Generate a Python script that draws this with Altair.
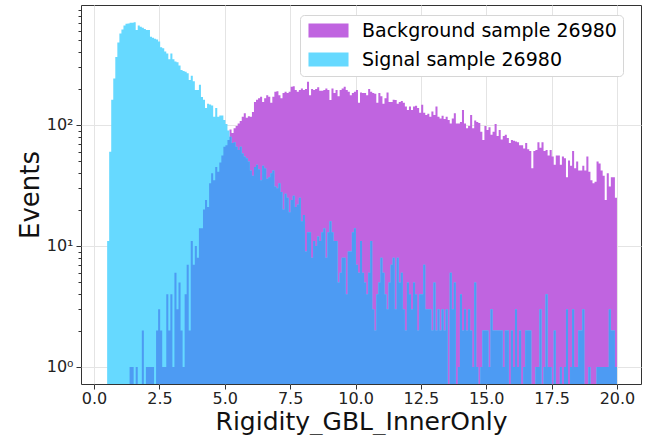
import altair as alt
import numpy as np
import pandas as pd

# 250 bins from 0.5 to 20.0
bin_start = 0.5
bin_width = 0.078
n_bins = 250

signal_counts = [
    11, 60, 162, 242, 364, 480, 570, 615, 665, 685,
    690, 700, 700, 705, 610, 665, 650, 635, 620, 610,
    610, 535, 525, 515, 510, 490, 440, 430, 405, 390,
    350, 390, 350, 335, 330, 310, 285, 280, 276, 268,
    235, 255, 230, 195, 195, 215, 170, 162, 138, 150,
    148, 145, 117, 138, 117, 120, 120, 110, 102, 90,
    80, 71,
    72, 66, 62, 66, 58, 55, 53, 50, 42, 38, 45, 47, 43, 35, 46, 44, 36, 37,
    40, 42, 31, 30, 33, 28,
    20, 27, 25, 19, 24, 26, 21, 22, 25, 16,
    18, 9, 13, 13, 8, 11, 10, 12, 11, 13,
    14, 8, 13, 16, 13, 11, 11, 5, 6, 8,
    8, 4, 9, 9, 13, 14, 7, 6, 11, 6,
    5, 4, 6, 11, 3, 2, 4, 5, 8, 6,
    4, 3, 5, 7, 8, 3, 8, 5, 6, 3,
    2, 5, 4, 3, 5, 4, 2, 4, 4, 7,
    3, 3, 3, 2, 5, 2, 3, 2, 3, 2,
    3, 0,
    6, 3, 5, 0, 1, 4, 2, 3, 2, 3,
    2, 1, 5, 1, 0, 1, 2, 2, 2, 1,
    3, 2, 2, 2, 2, 2, 1, 2, 2, 0,
    2, 1, 3, 1, 2, 0, 1, 2, 2, 2,
    0, 0, 1, 1, 3, 0, 1, 4, 1, 1,
    0, 2, 0, 0, 1, 0, 1, 3, 0, 1,
    3, 1, 1, 2, 2, 3, 0, 0, 1, 0,
    0, 0, 1, 1, 1, 1, 1, 1, 3, 2,
    2, 1,
]

background_counts = [
    0, 0, 0, 0, 0, 0, 0, 0, 0, 0, 0,
    1, 1, 0, 1, 0, 0, 2, 0, 1, 1,
    1, 1, 0, 2, 3, 2, 1, 1, 4, 2,
    4, 1, 6, 3, 5, 2, 1, 4, 7, 2,
    11, 7, 10, 8, 14, 14, 20, 24, 21, 33,
    40, 35, 45, 41, 49, 56, 66, 68, 75,
    92, 86, 94, 98, 103, 108, 117, 125, 115, 118,
    117, 128, 155, 162, 166, 171, 155, 166, 176, 171,
    153, 171, 188, 190, 176, 166, 184, 188, 184, 188,
    207, 209, 195, 188, 195, 200, 195, 198, 228, 176,
    198, 195, 198, 205, 192, 192, 195, 200, 195,
    161, 200, 184, 195, 173, 195, 200, 207, 195, 188,
    176, 184, 188, 195, 153, 186, 184, 184, 176,
    198, 188, 184, 181, 153, 184, 173, 150, 166, 186,
    155, 155, 162, 161, 150, 155, 158, 153, 142, 133,
    142, 133, 142, 144, 138, 126, 147, 126, 121, 124,
    117, 129, 121, 142, 117, 113, 119, 112, 117, 110,
    103, 113, 125, 103, 103, 106, 133, 103, 94, 98,
    121, 94, 109, 106, 104, 88, 75, 98, 91, 96,
    83, 88, 102, 81, 91, 76, 81, 83, 78, 71,
    75, 74, 73, 72, 68, 68, 64, 71, 63, 61,
    44, 61, 62, 72, 65, 72, 61, 62, 56, 62,
    55, 47, 56, 56, 47, 55, 53, 37, 51,
    46, 61, 44, 50, 42, 42, 46, 42, 55, 41,
    35, 33, 34, 50, 48, 42, 38, 24, 40, 31,
    37, 37, 25,
]

series_names = ["Background sample 26980", "Signal sample 26980"]
x_ticks = [0.0, 2.5, 5.0, 7.5, 10.0, 12.5, 15.0, 17.5, 20.0]
y_ticks = [m * 10 ** e for e in range(3) for m in range(1, 10)]

# colours as drawn: background, signal (deepskyblue at alpha 0.6), and their overlap
BG_COL = "#c064e0"
SIG_COL = "#66d9ff"
OVL_COL = "#4d9bf3"

edges = bin_start + bin_width * np.arange(n_bins + 1)
bg = list(background_counts[:n_bins])
sig = list(signal_counts[:n_bins])
# step-after outline: each bin's count at its left edge, last count repeated at the closing edge
df = pd.DataFrame({
    "x": edges,
    "bg": bg + [bg[-1]],
    "sig": sig + [sig[-1]],
})

FONT = "DejaVu Sans"
W, H = 560, 379
major_test = "indexof([1, 10, 100], datum.value) >= 0"

x_scale = alt.Scale(domain=[-0.5, 20.92], nice=False, zero=False)
y_scale = alt.Scale(type="log", domain=[0.7236, 981], nice=False, clamp=True)
x_axis = alt.Axis(values=x_ticks, format=".1f", title="Rigidity_GBL_InnerOnly",
                  labelFontSize=16, titleFontSize=25, titleFontWeight="normal",
                  titlePadding=3, tickSize=5, grid=True, gridColor="#e4e4e4",
                  labelPadding=1)
y_axis = alt.Axis(values=y_ticks, title="Events",
                  labelExpr="datum.value == 1 ? '10⁰' : datum.value == 10 ? '10¹' : datum.value == 100 ? '10²' : ''",
                  labelOverlap=False, labelFontSize=16, titleFontSize=26,
                  titleFontWeight="normal", titlePadding=3, labelPadding=3,
                  tickSize={"condition": {"test": major_test, "value": 5}, "value": 3},
                  grid=True, gridColor="#e4e4e4",
                  gridOpacity={"condition": {"test": major_test, "value": 1}, "value": 0})
legend = alt.Legend(title=None, orient="none", legendX=219, legendY=10,
                    labelFontSize=19, labelFont=FONT, labelLimit=400,
                    symbolType="M-2.86,-1 L2.86,-1 L2.86,1 L-2.86,1 Z",
                    symbolSize=196, symbolStrokeWidth=0, symbolOffset=13,
                    labelOffset=24, rowPadding=9, padding=6,
                    fillColor="white", strokeColor="#d6d6d6", cornerRadius=4)
color_scale = alt.Scale(domain=series_names, range=[BG_COL, SIG_COL])

base = alt.Chart(df).transform_calculate(
    ovl="min(datum.bg, datum.sig)",
)


def layer(field, series=None, col=None):
    c = base.transform_calculate(yv=f"max(datum.{field}, 0.5)")
    if series is not None:
        c = c.transform_calculate(series=f"'{series}'")
    enc = dict(
        x=alt.X("x:Q", scale=x_scale, axis=x_axis),
        y=alt.Y("yv:Q", scale=y_scale, axis=y_axis),
        y2=alt.value(H),
    )
    if series is not None:
        enc["color"] = alt.Color("series:N", scale=color_scale, legend=legend)
    else:
        enc["color"] = alt.value(col)
    return c.mark_area(interpolate="step-after", clip=True, opacity=1).encode(**enc)


chart = alt.layer(
    layer("bg", series=series_names[0]),
    layer("sig", series=series_names[1]),
    layer("ovl", col=OVL_COL),
).properties(
    width=W, height=H,
    autosize=alt.AutoSizeParams(type="none"),
    padding={"left": 81, "top": 5, "right": 6, "bottom": 51},
).configure(font=FONT).configure_view(
    stroke="#333333", strokeWidth=1
).configure_axis(
    labelFont=FONT, titleFont=FONT, labelColor="#222222", titleColor="#111111",
    domainColor="#333333", tickColor="#333333", domain=False
)

chart.save("out.html", embed_options={"renderer": "svg", "actions": False})
